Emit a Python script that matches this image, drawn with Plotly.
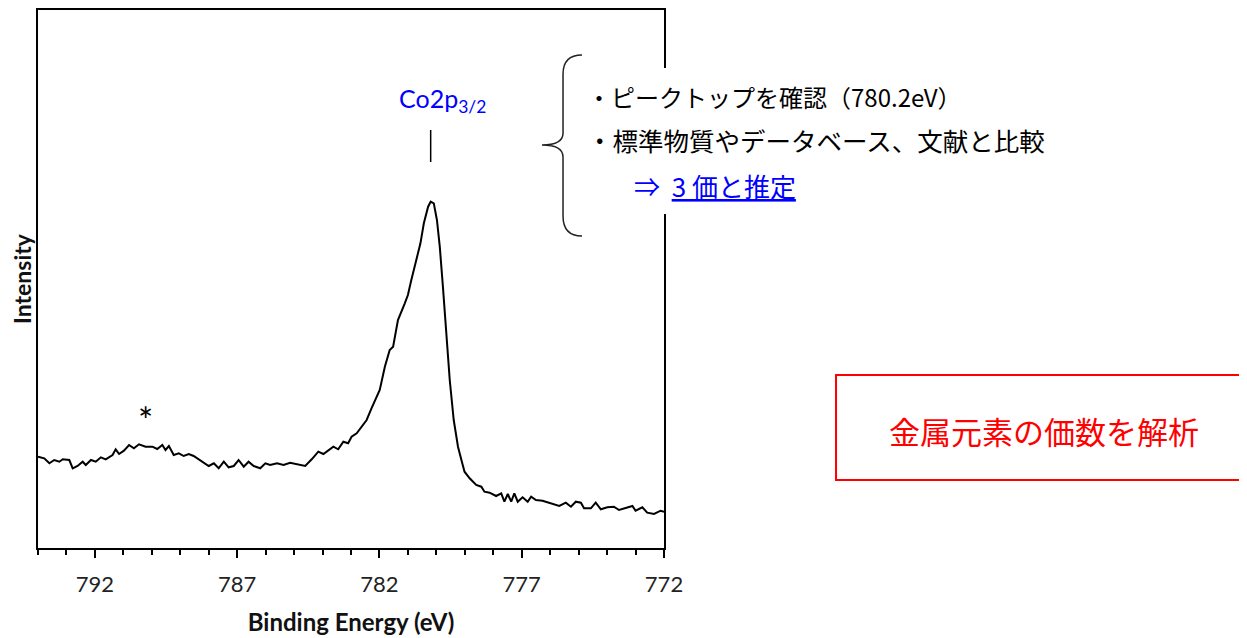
import plotly.graph_objects as go

# ---- data ----
binding_energy_ev = [
    794.00, 793.78, 793.60, 793.43, 793.25, 793.13, 792.90, 792.78, 792.61, 792.43,
    792.32, 792.14, 791.97, 791.79, 791.62, 791.38, 791.27, 791.15, 790.98, 790.80,
    790.63, 790.45, 790.22, 789.98, 789.81, 789.63, 789.52, 789.40, 789.23, 789.05,
    788.88, 788.70, 788.53, 788.35, 788.18, 788.00, 787.82, 787.65, 787.47, 787.30,
    787.12, 786.95, 786.77, 786.60, 786.42, 786.19, 786.01, 785.84, 785.60, 785.37,
    785.14, 784.90, 784.61, 784.38, 784.15, 783.97, 783.80, 783.62, 783.45, 783.27,
    783.10, 782.98, 782.80, 782.63, 782.45, 782.28, 782.10,
    781.99, 781.81, 781.64, 781.52, 781.35, 781.11, 781.00, 780.88, 780.70, 780.56,
    780.44, 780.29, 780.20, 780.09, 779.98, 779.88, 779.77, 779.65, 779.53, 779.39,
    779.24, 779.12, 779.01, 778.83, 778.60, 778.42, 778.31, 778.13, 777.90, 777.72,
    777.61, 777.49, 777.37, 777.26, 777.14, 776.97, 776.79, 776.67, 776.50, 776.27,
    776.03, 775.68, 775.45, 775.27, 775.10, 774.92, 774.81, 774.57, 774.40, 774.22,
    773.99, 773.76, 773.58, 773.35, 773.11, 773.00, 772.76, 772.59, 772.35, 772.12,
    772.00,
]
intensity_au = [
    91.3, 89.7, 84.7, 88.0, 86.3, 88.7, 88.0, 79.7, 82.0, 86.3,
    83.0, 88.0, 86.3, 90.7, 88.7, 93.0, 98.7, 94.0, 97.3, 103.0,
    99.7, 103.7, 101.3, 101.3, 99.0, 103.0, 98.0, 102.0, 93.0, 94.7,
    92.0, 94.0, 92.0, 88.7, 84.7, 82.0, 84.7, 79.7, 86.3, 80.7,
    82.0, 88.0, 81.3, 86.3, 82.0, 79.7, 84.7, 83.0, 84.7, 83.0,
    85.3, 84.0, 82.0, 88.7, 96.3, 94.0, 97.3, 101.3, 98.7, 106.3,
    104.7, 111.3, 114.7, 121.3, 128.0, 139.7, 151.3,
    158.0, 181.3, 198.0, 201.3, 228.0, 244.7, 253.0, 268.0, 288.0, 304.7,
    324.7, 341.3, 346.3, 344.7, 328.0, 301.3, 261.3, 218.0, 168.0, 128.0,
    101.3, 88.0, 76.3, 69.7, 63.0, 61.3, 56.3, 55.3, 52.0, 54.7,
    46.3, 54.0, 46.3, 54.7, 46.3, 50.7, 46.3, 51.3, 48.0, 47.3,
    45.3, 42.0, 45.3, 41.3, 46.3, 45.3, 39.7, 39.7, 45.3, 38.7,
    40.7, 41.3, 38.0, 39.7, 42.0, 37.3, 40.7, 35.3, 34.0, 37.3,
    36.3,
]
x_tick_step = 5
peak_top_ev = 780.2
peak_label = "Co2p<sub>3/2</sub>"
satellite_ev = 790.22
notes = [
    "・ピークトップを確認（780.2eV）",
    "・標準物質やデータベース、文献と比較",
]
conclusion = "⇒  <u>3 価と推定</u>"
box_text = "金属元素の価数を解析"

LATIN = "Lato, 'Open Sans', sans-serif"
JP = "'Noto Sans CJK JP', sans-serif"

fig = go.Figure()
fig.add_trace(go.Scatter(
    x=binding_energy_ev, y=intensity_au, mode="lines",
    line=dict(color="black", width=2), showlegend=False, hoverinfo="x+y",
))

# peak marker line and label
fig.add_shape(type="line", xref="x", yref="y", x0=peak_top_ev, x1=peak_top_ev,
              y0=386, y1=418, line=dict(color="black", width=1.5))
fig.add_annotation(x=779.8, y=448, xref="x", yref="y", text=peak_label,
                   xanchor="center", yanchor="middle",
                   showarrow=False, font=dict(family=LATIN, size=25, color="#0000FF"))
# satellite asterisk
fig.add_annotation(x=satellite_ev, y=128, xref="x", yref="y", text="*",
                   xanchor="center", yanchor="middle",
                   showarrow=False, font=dict(family=LATIN, size=36, color="black"))

# white background behind notes (hides the right frame, as in the reference)
fig.add_shape(type="rect", xref="paper", yref="paper", x0=0.8818, x1=1.6486,
              y0=0.6208, y1=0.8922, fillcolor="white", line=dict(width=0), layer="above")
# curly brace
brace = ("M 0.8690,0.9164 Q 0.8387,0.9164 0.8387,0.8810 L 0.8387,0.7714 "
         "Q 0.8387,0.7491 0.8051,0.7491 Q 0.8387,0.7491 0.8387,0.7268 "
         "L 0.8387,0.6171 Q 0.8387,0.5799 0.8690,0.5799")
fig.add_shape(type="path", xref="paper", yref="paper", path=brace,
              line=dict(color="#222222", width=1.5), layer="above")

fig.add_annotation(x=0.8738, y=0.8383, xref="paper", yref="paper", text=notes[0],
                   xanchor="left", yanchor="middle", showarrow=False,
                   font=dict(family=JP, size=24, color="black"))
fig.add_annotation(x=0.8738, y=0.7584, xref="paper", yref="paper", text=notes[1],
                   xanchor="left", yanchor="middle", showarrow=False,
                   font=dict(family=JP, size=25.5, color="black"))
fig.add_annotation(x=0.9489, y=0.6729, xref="paper", yref="paper", text=conclusion,
                   xanchor="left", yanchor="middle", showarrow=False,
                   font=dict(family=JP, size=26, color="#0000FF"))

# red box
fig.add_shape(type="rect", xref="paper", yref="paper", x0=1.2748, x1=1.9521,
              y0=0.1264, y1=0.3216, line=dict(color="#FF0000", width=2))
fig.add_annotation(x=1.6070, y=0.2193, xref="paper", yref="paper", text=box_text,
                   xanchor="center", yanchor="middle",
                   showarrow=False, font=dict(family=JP, size=31, color="#FF0000"))

fig.update_layout(
    width=1239, height=630,
    margin=dict(l=30, r=583, t=2, b=90, autoexpand=False),
    plot_bgcolor="white", paper_bgcolor="white",
    showlegend=False,
)
fig.update_xaxes(
    range=[794, 772], tick0=772, dtick=x_tick_step, automargin=False,
    ticks="outside", ticklen=8, tickwidth=1.5, tickcolor="black",
    showline=True, linecolor="black", linewidth=2, mirror=True,
    showgrid=False, zeroline=False,
    minor=dict(dtick=1, ticks="outside", ticklen=5, tickwidth=1.5, tickcolor="black"),
    tickfont=dict(family=LATIN, size=22, color="#222222"),
    ticklabelstandoff=8,
    title=dict(text="<b>Binding Energy (eV)</b>", standoff=18,
               font=dict(family=LATIN, size=24, color="#111111")),
)
fig.update_yaxes(
    range=[0, 538], showticklabels=False, ticks="", automargin=False,
    showline=True, linecolor="black", linewidth=2, mirror=True,
    showgrid=False, zeroline=False,
    title=dict(text="<b>Intensity</b>", standoff=4,
               font=dict(family=LATIN, size=23, color="#111111")),
)

fig.write_html("out.html")
